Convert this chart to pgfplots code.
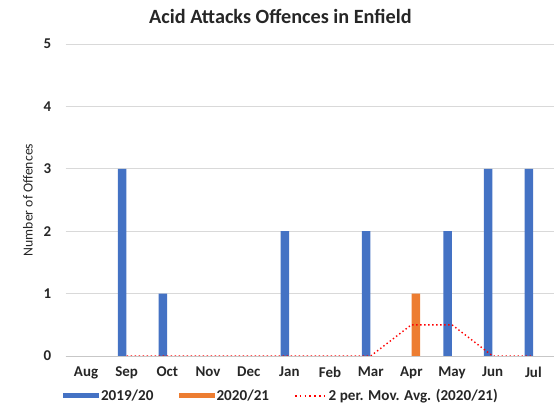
\documentclass[border=0pt]{standalone}
\usepackage{pgfplots}
\pgfplotsset{compat=1.18}
\usepackage{fontspec}
\setmainfont{Carlito}
\definecolor{bblue}{HTML}{4472C4}
\definecolor{borange}{HTML}{ED7D31}
\definecolor{gridgray}{HTML}{D9D9D9}
\begin{document}
\begin{tikzpicture}
\path[use as bounding box] (-65.7bp,-49bp) rectangle (488.3bp,356bp);
\begin{axis}[
  at={(0,0)}, anchor=south west,
  scale only axis, width=488bp, height=312bp,
  xmin=-0.5, xmax=11.5, ymin=0, ymax=5,
  xtick={0,...,11},
  xticklabels={Aug,Sep,Oct,Nov,Dec,Jan,Feb,Mar,Apr,May,Jun,Jul},
  ytick={0,1,2,3,4,5},
  ymajorgrids, grid style={gridgray, line width=0.8bp},
  axis lines*=left,
  y axis line style={draw=none},
  x axis line style={gridgray!80!gray, line width=0.8bp},
  major tick length=0pt,
  /pgf/number format/assume math mode=true,
  ticklabel style={font=\bfseries\fontsize{15}{17}\selectfont, text=black!85},
  xticklabel style={yshift=-7bp},
  yticklabel style={xshift=-11bp},
  ylabel={Number of Offences},
  ylabel style={font=\fontsize{13.8}{15}\selectfont, text=black!85, yshift=4bp},
  title={Acid Attacks Offences in Enfield},
  title style={at={(axis description cs:0.44,1.07)}, anchor=center, font=\bfseries\fontsize{20.3}{22}\selectfont, text=black!85},
  legend style={at={(axis description cs:-0.012,-0.128)}, anchor=west, draw=none, fill=none,
    legend columns=3, font=\bfseries\fontsize{15.2}{17}\selectfont, text=black!85,
    /tikz/every even column/.append style={column sep=23bp}},
  legend cell align=left,
]
\addplot[ybar, bar width=8.5bp, bar shift=-4.5bp, fill=bblue, draw=none,
  legend image code/.code={\fill[bblue] (0bp,-2.5bp) rectangle (36bp,2.5bp);}]
  coordinates {(0,0) (1,3) (2,1) (3,0) (4,0) (5,2) (6,0) (7,2) (8,0) (9,2) (10,3) (11,3)};
\addlegendentry{2019/20}
\addplot[ybar, bar width=8.5bp, bar shift=4.5bp, fill=borange, draw=none,
  legend image code/.code={\fill[borange] (0bp,-2.5bp) rectangle (36bp,2.5bp);}]
  coordinates {(0,0) (1,0) (2,0) (3,0) (4,0) (5,0) (6,0) (7,0) (8,1) (9,0) (10,0) (11,0)};
\addlegendentry{2020/21}
\addplot[red, line width=1.4bp, dash pattern=on 1.4bp off 2.6bp, mark=none,
  legend image code/.code={\draw[red, line width=1.6bp, dash pattern=on 1.6bp off 3.2bp] (0bp,0bp) -- (31bp,0bp);}]
  coordinates {(1,0) (2,0) (3,0) (4,0) (5,0) (6,0) (7,0) (8,0.5) (9,0.5) (10,0) (11,0)};
\addlegendentry{2 per. Mov. Avg. (2020/21)}
\end{axis}
\end{tikzpicture}
\end{document}
